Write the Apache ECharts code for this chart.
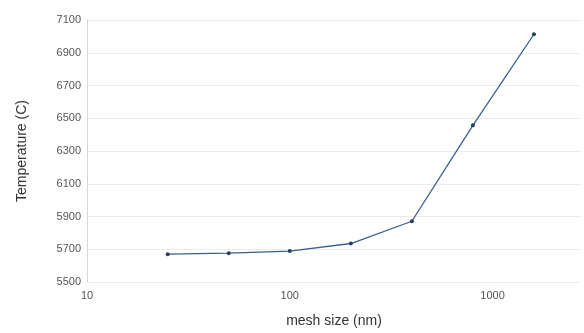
<!DOCTYPE html>
<html><head><meta charset="utf-8">
<script src="https://cdn.jsdelivr.net/npm/echarts@6/dist/echarts.min.js"></script>
<style>html,body{margin:0;padding:0;background:#fff}#c{width:584px;height:333px}</style>
</head><body><div id="c"></div>
<script>
var meshSizes = [25, 50, 100, 200, 400, 800, 1600];
var temperatures = [5670, 5676, 5689, 5735, 5871, 6457, 7013];
var xAxisTitle = 'mesh size (nm)';
var yAxisTitle = 'Temperature (C)';

var chart = echarts.init(document.getElementById('c'), null, {renderer:'canvas'});
chart.setOption({
  animation: false,
  backgroundColor: '#ffffff',
  grid: {left: 87, right: 0, top: 20, bottom: 50, containLabel: false},
  xAxis: {
    type: 'log', logBase: 10, min: 10, max: 2730,
    name: xAxisTitle, nameLocation: 'middle', nameGap: 32,
    nameTextStyle: {fontFamily: 'Liberation Sans', fontSize: 14, color: '#333'},
    axisLine: {show: false},
    axisTick: {show: false},
    splitLine: {show: false},
    minorSplitLine: {show: false},
    axisLabel: {fontFamily: 'Liberation Sans', fontSize: 11, color: '#555', margin: 8,
      formatter: function(v){ return (v===10||v===100||v===1000)? String(v): ''; }}
  },
  yAxis: {
    type: 'value', min: 5500, max: 7100, interval: 200,
    name: yAxisTitle, nameLocation: 'middle', nameGap: 58,
    nameTextStyle: {fontFamily: 'Liberation Sans', fontSize: 14, color: '#333'},
    axisLine: {show: true, lineStyle: {color: '#d8d8d8', width: 1}},
    axisTick: {show: false},
    splitLine: {show: true, lineStyle: {color: '#ececec', width: 1}},
    axisLabel: {fontFamily: 'Liberation Sans', fontSize: 11, color: '#555', margin: 6,
      formatter: function(v){ return String(v); }}
  },
  series: [{
    type: 'line',
    data: meshSizes.map(function(x, i){ return [x, temperatures[i]]; }),
    symbol: 'circle', symbolSize: 4,
    lineStyle: {color: '#3a5f8c', width: 1.3},
    itemStyle: {color: '#24405f'}
  }]
});
</script></body></html>
